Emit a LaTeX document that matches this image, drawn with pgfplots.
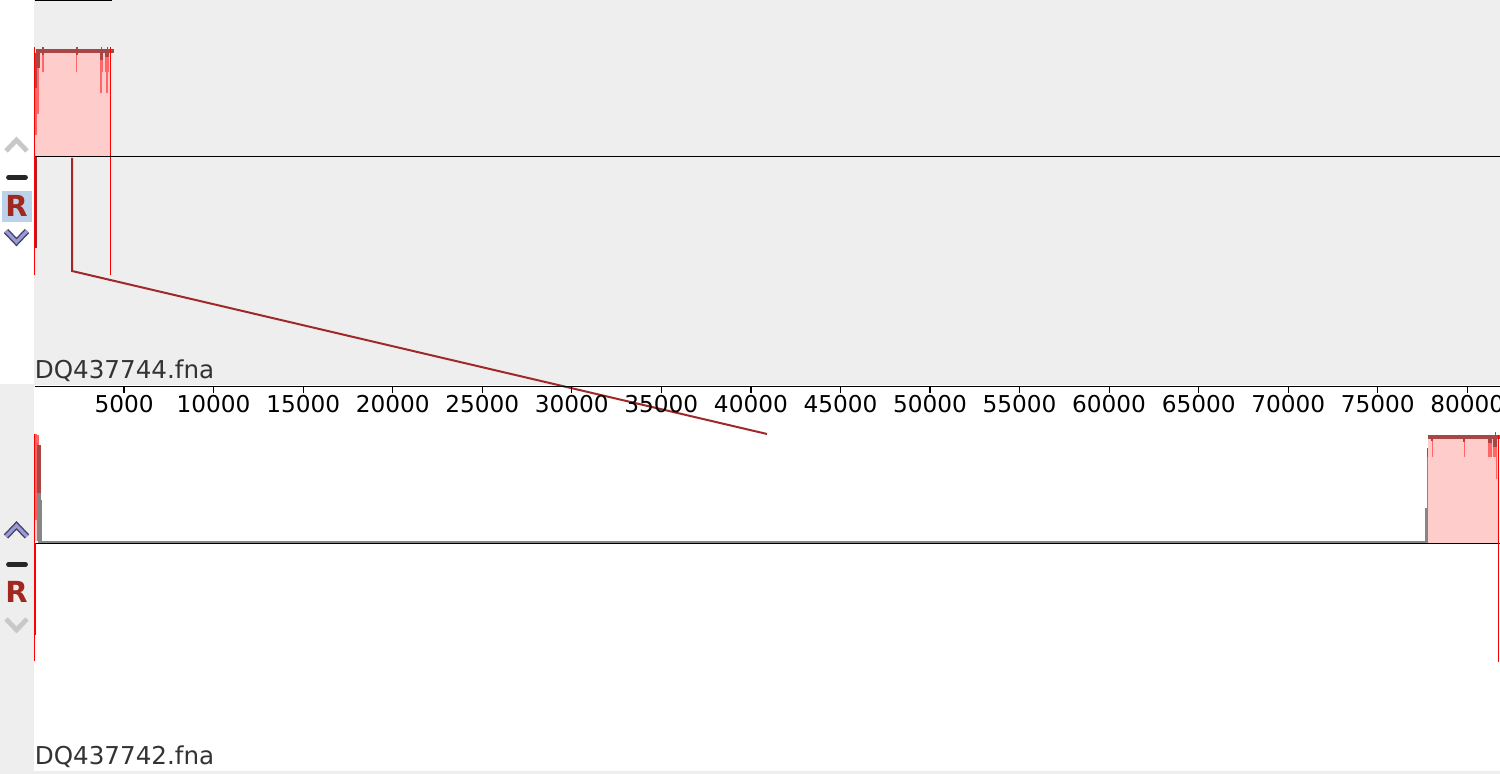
\documentclass[border=0pt]{standalone}
\usepackage{fontspec}
\setmainfont{DejaVu Sans}
\usepackage{pgfplots}
\pgfplotsset{compat=1.18}
\definecolor{bggray}{HTML}{EEEEEE}
\definecolor{blockpink}{HTML}{FFCCCC}
\definecolor{profdark}{HTML}{A84646}
\definecolor{proflight}{HTML}{FF6666}
\definecolor{lcbred}{HTML}{FF0000}
\definecolor{conn}{HTML}{A0282A}
\definecolor{profgray}{HTML}{868686}
\definecolor{txtgray}{HTML}{333333}
\definecolor{rblue}{HTML}{BCD2EA}
\definecolor{rred}{HTML}{A0281E}
\definecolor{chevgray}{HTML}{C8C8C8}
\definecolor{chevlav}{HTML}{9A9AD6}
\definecolor{chevdark}{HTML}{404068}
% rectangle of a similarity profile: x from #1 to #2 (bp), y from #3 to #4 (panel pixels)
\newcommand{\blk}[5]{\addplot[fill=#5,draw=none,forget plot] coordinates {(#1,#3) (#2,#3) (#2,#4) (#1,#4)};}
\newcommand{\vln}[4]{\addplot[#4,line width=0.55pt,forget plot] coordinates {(#1,#2) (#1,#3)};}
\begin{document}
\begin{tikzpicture}
\path[use as bounding box] (0,0) rectangle (750pt,387pt);
\clip (0,0) rectangle (750pt,387pt);
\begin{scope}[x=0.5pt,y=-0.5pt,shift={(0pt,387pt)}]
  % panels
  \fill[white] (0,0) rectangle (1500,774);
  \fill[bggray] (34,0) rectangle (1500,385);
  \fill[bggray] (0,384) rectangle (34,774);
  \fill[bggray] (0,771) rectangle (1500,774);
  % top panel controls
  \draw[chevgray, line width=2.4pt, line join=miter] (6,151)--(16.5,140)--(27,151);
  \draw[black!85, line width=2.4pt, line cap=round] (8.5,177.5)--(25.5,177.5);
  \fill[rblue] (2,191) rectangle (32,222);
  \node[rred, inner sep=0, font=\bfseries\fontsize{14.5}{15}\selectfont] at (16.5,205.5) {R};
  \draw[chevdark, line width=3pt, line join=miter] (6,231)--(16.5,242)--(27,231);
  \draw[chevlav, line width=1.6pt, line join=miter] (6,231)--(16.5,242)--(27,231);
  % bottom panel controls
  \draw[chevdark, line width=3pt, line join=miter] (6,536.5)--(16.5,525.5)--(27,536.5);
  \draw[chevlav, line width=1.6pt, line join=miter] (6,536.5)--(16.5,525.5)--(27,536.5);
  \draw[black!85, line width=2.4pt, line cap=round] (8.5,564.5)--(25.5,564.5);
  \node[rred, inner sep=0, font=\bfseries\fontsize{14.5}{15}\selectfont] at (16.5,592) {R};
  \draw[chevgray, line width=2.4pt, line join=miter] (6,619)--(16.5,630)--(27,619);
  % sequence names
  \node[anchor=base west, inner sep=0, txtgray, font=\fontsize{12.3}{14}\selectfont] at (34.5,379) {DQ437744.fna};
  \node[anchor=base west, inner sep=0, txtgray, font=\fontsize{12.3}{14}\selectfont] at (34.5,765) {DQ437742.fna};
\end{scope}

% ---------- alignment canvas: x in bp, y in panel pixels (downwards)
\begin{axis}[at={(0pt,0pt)}, anchor=south west, width=750pt, height=387pt, scale only axis,
  xmin=-1926.3, xmax=81826, ymin=0, ymax=774, y dir=reverse, axis lines=none, clip=false]
  % ---- DQ437744 (top) block 1
  \blk{28}{4232}{53}{156}{blockpink}
  \blk{67}{4439}{49}{53}{profdark}
  \blk{435}{514}{47}{55}{profdark}
  \blk{2317}{2406}{47}{55}{profdark}
  \blk{3700}{3760}{47}{49}{profdark}
  \blk{4040}{4100}{47}{49}{profdark}
  \blk{28}{156}{53}{88}{profdark}
  \blk{156}{307}{53}{68}{profdark}
  \blk{28}{140}{88}{135}{proflight}
  \blk{156}{235}{68}{114}{proflight}
  \vln{475}{55}{72}{proflight}
  \vln{2356}{55}{72}{proflight}
  \blk{3657}{3808}{53}{60}{profdark}
  \blk{3657}{3808}{60}{72}{proflight}
  \vln{3713}{72}{93}{proflight}
  \blk{3936}{4160}{53}{57}{profdark}
  \blk{3936}{4160}{57}{72}{proflight}
  \vln{4048}{72}{93}{proflight}
  \vln{6}{47}{275}{lcbred}
  \vln{4232}{47}{275}{lcbred}
  \vln{84}{157}{248}{conn}
  \addplot[black, line width=0.55pt, forget plot] coordinates {(0,0.6) (4327,0.6)};
  \addplot[black, line width=0.55pt, forget plot] coordinates {(0,156.5) (81826,156.5)};
  % ---- DQ437742 (bottom)
  \addplot[profgray, line width=1pt, forget plot] coordinates {(195,541.6) (77747,541.6)};
  \blk{77663}{77747}{508}{543}{profgray}
  \blk{77747}{77831}{457}{543}{profgray}
  \blk{77775}{77887}{448}{457}{profdark}
  \blk{77831}{81757}{439}{543}{blockpink}
  \blk{77831}{81826}{435}{439}{profdark}
  \blk{81520}{81600}{432}{435}{profdark}
  \blk{77999}{78110}{439}{441}{profdark}
  \vln{78055}{441}{457}{proflight}
  \blk{79787}{79898}{439}{442}{profdark}
  \vln{79842}{442}{457}{proflight}
  \blk{81182}{81405}{439}{457}{proflight}
  \blk{81182}{81405}{439}{443}{profdark}
  \blk{81461}{81685}{439}{447}{profdark}
  \blk{81461}{81685}{447}{457}{proflight}
  \vln{81629}{457}{479}{proflight}
  \blk{28}{156}{434}{520}{proflight}
  \blk{28}{156}{520}{541}{blockpink}
  \blk{156}{251}{435}{445}{proflight}
  \blk{112}{335}{445}{493}{profdark}
  \blk{156}{346}{493}{541}{profgray}
  \blk{346}{419}{500}{541}{profgray}
  \addplot[black, line width=0.55pt, forget plot] coordinates {(0,543.3) (81826,543.3)};
  \vln{6}{434}{661}{lcbred}
  \vln{81757}{435}{662}{lcbred}
  \vln{56}{543}{635}{conn}
  % ---- connecting line between the two blocks
  \addplot[conn, line width=1pt, line join=miter, forget plot] coordinates {(2094,158) (2094,271) (40899,434)};
\end{axis}

% ---------- ruler
\begin{axis}[at={(17.25pt,193.75pt)}, anchor=south west, width=732.75pt, height=4pt, scale only axis,
  xmin=0, xmax=81826, ymin=0, ymax=1, axis x line*=bottom, hide y axis,
  axis line style={-, black, line width=0.55pt},
  xtick={5000,10000,...,80000}, scaled x ticks=false,
  tick align=outside, major tick length=3.5pt, tick style={black, line width=0.6pt},
  /pgf/number format/assume math mode=true, /pgf/number format/1000 sep={},
  xticklabel style={font=\fontsize{11.6}{13}\selectfont, text=black, yshift=2.5pt}, clip=false]
  \addplot[draw=none, forget plot] coordinates {(0,0) (81826,0)};
\end{axis}
\end{tikzpicture}
\end{document}
